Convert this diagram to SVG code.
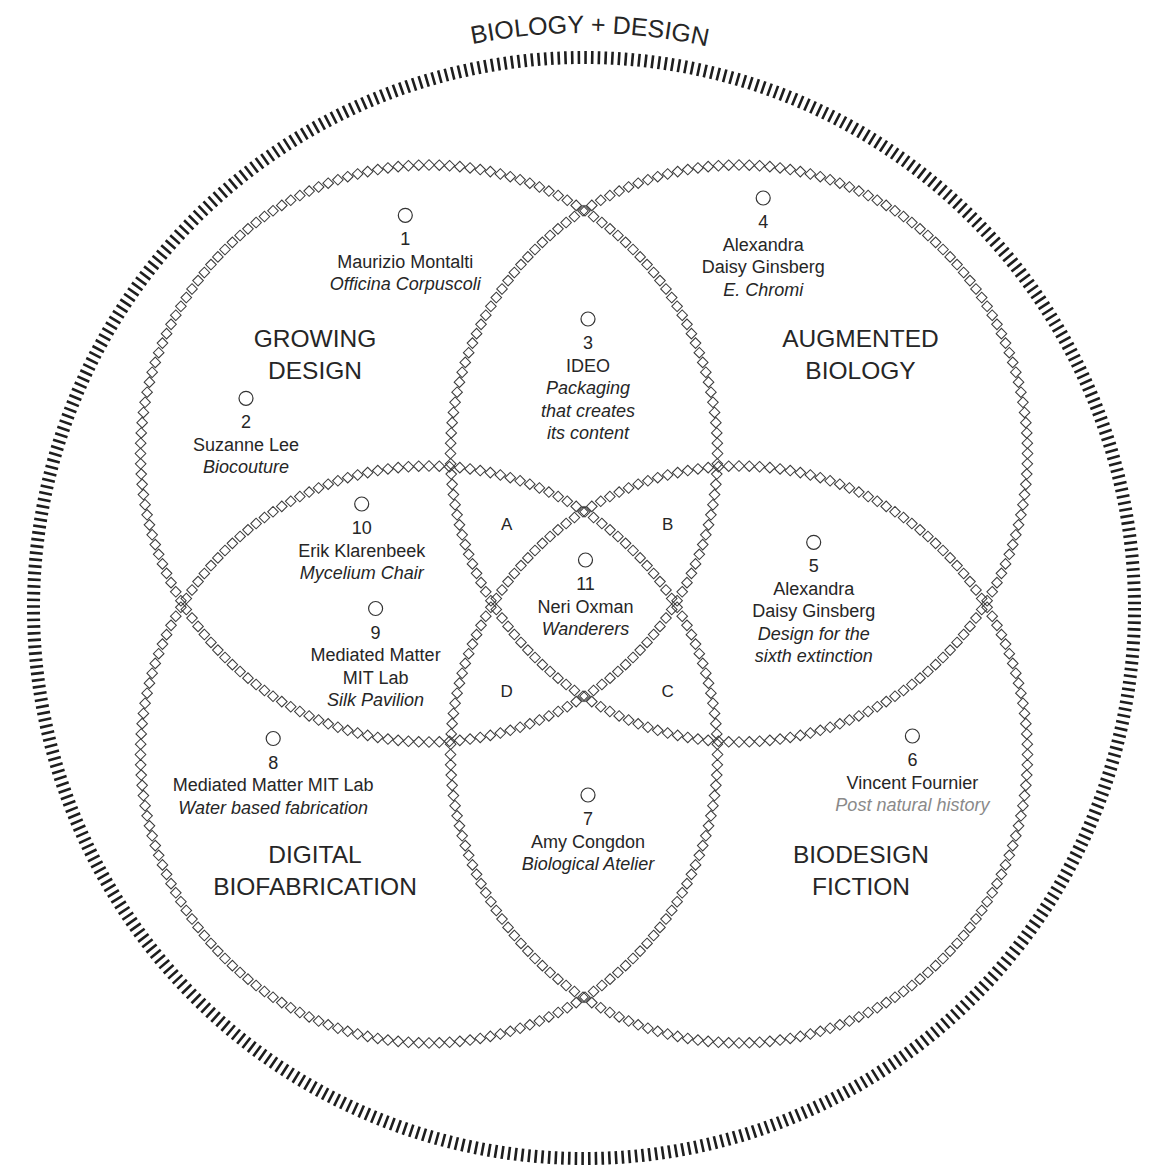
<svg xmlns="http://www.w3.org/2000/svg" xmlns:xlink="http://www.w3.org/1999/xlink" width="1163" height="1170" viewBox="0 0 1163 1170">
  <style>
    text { font-family: "Liberation Sans", Arial, sans-serif; fill: #262626; text-anchor: middle; }
    .t { font-size: 18px; }
    .i { font-style: italic; }
    .h { font-size: 24.5px; }
    .l { font-size: 17px; }
    .g { fill: #8a8a8a; }
    .dot { fill: none; stroke: #333; stroke-width: 1.2; }
    .chain { fill: none; stroke: none; marker-start: url(#dm); marker-mid: url(#dm); marker-end: url(#dm); }
  </style>
  <defs>
    <!-- one hollow diamond of the chain border -->
    <marker id="dm" markerUnits="userSpaceOnUse" markerWidth="14" markerHeight="14" refX="7" refY="7" orient="0" overflow="visible">
      <path d="M7,1.7 L12.3,7 L7,12.3 L1.7,7 Z" fill="none" stroke="#3c3c3c" stroke-width="1.05"/>
    </marker>
    <!-- diamond centres on one octant of a circle, r = 288.5 -->
    <polyline id="oct" class="chain" points="288.32,10.30 287.77,20.58 286.85,30.84 285.56,41.06 283.92,51.22 281.91,61.33 279.54,71.35 276.81,81.28 273.74,91.11 270.31,100.82 266.54,110.40 262.43,119.85 257.98,129.14 253.21,138.26 248.11,147.21 242.70,155.98 236.98,164.54 230.96,172.89 224.64,181.03 218.03,188.93 211.15,196.59"/>
    <polyline id="axis" class="chain" points="288.5,0 204,204"/>
    <g id="quarter">
      <use xlink:href="#oct"/>
      <use xlink:href="#oct" transform="matrix(0,1,1,0,0,0)"/>
      <use xlink:href="#axis"/>
    </g>
    <g id="ring">
      <use xlink:href="#quarter"/>
      <use xlink:href="#quarter" transform="rotate(90)"/>
      <use xlink:href="#quarter" transform="rotate(180)"/>
      <use xlink:href="#quarter" transform="rotate(270)"/>
    </g>
    <path id="titleArc" d="M9,608 A575,575 0 0 1 1159,608"/>
  </defs>

  <rect width="1163" height="1170" fill="#fff"/>

  <!-- outer tick ring and title -->
  <g id="frame">
    <circle cx="584" cy="608" r="550.5" fill="none" stroke="#1e1e1e" stroke-width="13" stroke-dasharray="2.6 4.1033"/>
    <text font-size="25"><textPath xlink:href="#titleArc" startOffset="909">BIOLOGY + DESIGN</textPath></text>
  </g>

  <!-- the four overlapping field circles -->
  <g id="connectors">
    <use xlink:href="#ring" transform="translate(429,453.5)"/>
    <use xlink:href="#ring" transform="translate(739,453.5)"/>
    <use xlink:href="#ring" transform="translate(429,754.5)"/>
    <use xlink:href="#ring" transform="translate(739,754.5)"/>
  </g>

  <!-- field headings -->
  <g id="field-growing"><text class="h" x="315" y="347">GROWING</text><text class="h" x="315" y="379">DESIGN</text></g>
  <g id="field-augmented"><text class="h" x="860.5" y="347">AUGMENTED</text><text class="h" x="860.5" y="379">BIOLOGY</text></g>
  <g id="field-digital"><text class="h" x="315" y="863">DIGITAL</text><text class="h" x="315" y="895">BIOFABRICATION</text></g>
  <g id="field-fiction"><text class="h" x="861" y="863">BIODESIGN</text><text class="h" x="861" y="895">FICTION</text></g>

  <!-- overlap letters -->
  <g id="zone-a"><text class="l" x="506.7" y="530">A</text></g>
  <g id="zone-b"><text class="l" x="667.7" y="530">B</text></g>
  <g id="zone-c"><text class="l" x="667.7" y="696.7">C</text></g>
  <g id="zone-d"><text class="l" x="506.7" y="696.7">D</text></g>

  <!-- projects -->
  <g id="node-1">
    <circle class="dot" cx="405.3" cy="215.3" r="7"/>
    <text class="t" x="405.3" y="245.3">1</text>
    <text class="t" x="405.3" y="267.8">Maurizio Montalti</text>
    <text class="t i" x="405.3" y="290.3">Officina Corpuscoli</text>
  </g>
  <g id="node-2">
    <circle class="dot" cx="246" cy="398.3" r="7"/>
    <text class="t" x="246" y="428.3">2</text>
    <text class="t" x="246" y="450.8">Suzanne Lee</text>
    <text class="t i" x="246" y="473.3">Biocouture</text>
  </g>
  <g id="node-3">
    <circle class="dot" cx="588" cy="319" r="7"/>
    <text class="t" x="588" y="349">3</text>
    <text class="t" x="588" y="371.5">IDEO</text>
    <text class="t i" x="588" y="394">Packaging</text>
    <text class="t i" x="588" y="416.5">that creates</text>
    <text class="t i" x="588" y="439">its content</text>
  </g>
  <g id="node-4">
    <circle class="dot" cx="763.2" cy="198" r="7"/>
    <text class="t" x="763.2" y="228">4</text>
    <text class="t" x="763.2" y="250.5">Alexandra</text>
    <text class="t" x="763.2" y="273">Daisy Ginsberg</text>
    <text class="t i" x="763.2" y="295.5">E. Chromi</text>
  </g>
  <g id="node-5">
    <circle class="dot" cx="813.7" cy="542.3" r="7"/>
    <text class="t" x="813.7" y="572.3">5</text>
    <text class="t" x="813.7" y="594.8">Alexandra</text>
    <text class="t" x="813.7" y="617.3">Daisy Ginsberg</text>
    <text class="t i" x="813.7" y="639.8">Design for the</text>
    <text class="t i" x="813.7" y="662.3">sixth extinction</text>
  </g>
  <g id="node-6">
    <circle class="dot" cx="912.4" cy="736" r="7"/>
    <text class="t" x="912.4" y="766">6</text>
    <text class="t" x="912.4" y="788.5">Vincent Fournier</text>
    <text class="t i g" x="912.4" y="811">Post natural history</text>
  </g>
  <g id="node-7">
    <circle class="dot" cx="588" cy="795" r="7"/>
    <text class="t" x="588" y="825">7</text>
    <text class="t" x="588" y="847.5">Amy Congdon</text>
    <text class="t i" x="588" y="870">Biological Atelier</text>
  </g>
  <g id="node-8">
    <circle class="dot" cx="273.2" cy="738.5" r="7"/>
    <text class="t" x="273.2" y="768.5">8</text>
    <text class="t" x="273.2" y="791">Mediated Matter MIT Lab</text>
    <text class="t i" x="273.2" y="813.5">Water based fabrication</text>
  </g>
  <g id="node-9">
    <circle class="dot" cx="375.6" cy="608.5" r="7"/>
    <text class="t" x="375.6" y="638.5">9</text>
    <text class="t" x="375.6" y="661">Mediated Matter</text>
    <text class="t" x="375.6" y="683.5">MIT Lab</text>
    <text class="t i" x="375.6" y="706">Silk Pavilion</text>
  </g>
  <g id="node-10">
    <circle class="dot" cx="361.7" cy="504" r="7"/>
    <text class="t" x="361.7" y="534">10</text>
    <text class="t" x="361.7" y="556.5">Erik Klarenbeek</text>
    <text class="t i" x="361.7" y="579">Mycelium Chair</text>
  </g>
  <g id="node-11">
    <circle class="dot" cx="585.5" cy="560" r="7"/>
    <text class="t" x="585.5" y="590">11</text>
    <text class="t" x="585.5" y="612.5">Neri Oxman</text>
    <text class="t i" x="585.5" y="635">Wanderers</text>
  </g>
</svg>
